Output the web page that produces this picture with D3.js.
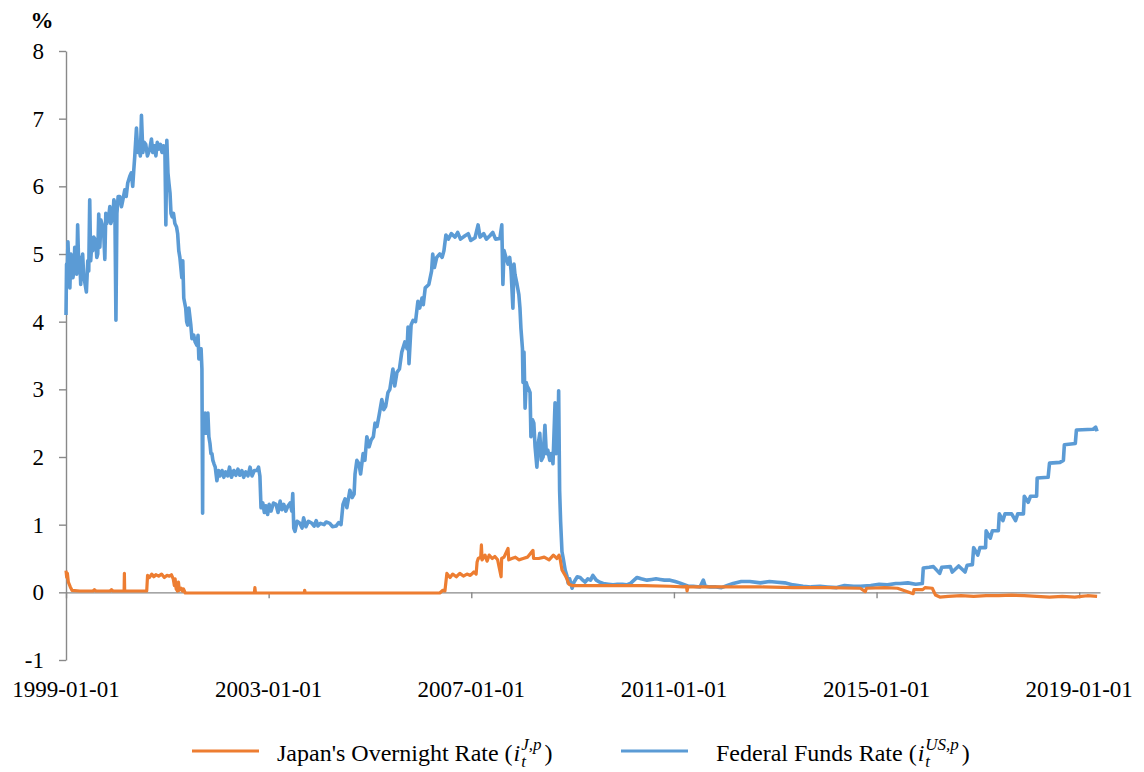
<!DOCTYPE html>
<html>
<head>
<meta charset="utf-8">
<script src="https://cdn.jsdelivr.net/npm/d3@7"></script>
<style>
  body { margin: 0; background: #fff; }
</style>
</head>
<body>
<svg id="chart" width="1144" height="772" font-family="Liberation Serif"></svg>
<script>
// 数据：联邦基金利率 (日期 / 数值)
const usDates = [
  "1999-01-01","1999-01-05","1999-01-08","1999-01-15","1999-01-22","1999-01-29","1999-02-05","1999-02-13","1999-02-20","1999-02-27",
  "1999-03-05","1999-03-12","1999-03-19","1999-03-26","1999-04-03","1999-04-10","1999-04-17","1999-04-24","1999-05-01","1999-05-08",
  "1999-05-15","1999-05-28","1999-06-07","1999-06-14","1999-06-21","1999-06-28","1999-07-06","1999-07-13","1999-07-20","1999-08-04",
  "1999-08-11","1999-08-18","1999-08-25","1999-09-02","1999-09-10","1999-09-23","1999-10-01","1999-10-08","1999-10-15","1999-10-22",
  "1999-11-05","1999-11-13","1999-11-20","1999-12-05","1999-12-12","1999-12-19","1999-12-27","2000-01-03","2000-01-12","2000-01-24",
  "2000-02-05","2000-02-15","2000-02-29","2000-03-10","2000-03-21","2000-04-05","2000-04-16","2000-04-26","2000-05-04","2000-05-11",
  "2000-05-23","2000-06-02","2000-06-10","2000-06-20","2000-06-28","2000-07-08","2000-07-18","2000-07-29","2000-08-10","2000-08-27",
  "2000-09-08","2000-09-18","2000-10-01","2000-10-10","2000-10-20","2000-11-01","2000-11-12","2000-11-23","2000-12-05","2000-12-14",
  "2000-12-21","2000-12-28","2001-01-05","2001-01-12","2001-01-20","2001-01-27","2001-02-04","2001-02-14","2001-02-24","2001-03-08",
  "2001-03-16","2001-03-24","2001-04-01","2001-04-15","2001-04-22","2001-04-29","2001-05-13","2001-05-20","2001-05-27","2001-06-05",
  "2001-06-19","2001-06-27","2001-07-10","2001-07-20","2001-08-02","2001-08-10","2001-08-16","2001-08-25","2001-09-01","2001-09-07",
  "2001-09-12","2001-09-14","2001-09-22","2001-09-30","2001-10-06","2001-10-13","2001-10-20","2001-10-27","2001-11-04","2001-11-11",
  "2001-11-18","2001-11-25","2001-12-03","2001-12-12","2001-12-24","2002-01-05","2002-01-15","2002-01-30","2002-02-12","2002-02-25",
  "2002-03-12","2002-03-25","2002-04-08","2002-04-25","2002-05-10","2002-05-25","2002-06-07","2002-06-22","2002-07-05","2002-07-20",
  "2002-08-05","2002-08-20","2002-09-03","2002-09-20","2002-10-09","2002-10-20","2002-10-30","2002-11-07","2002-11-20","2002-12-01",
  "2002-12-12","2002-12-25","2003-01-05","2003-01-18","2003-02-05","2003-02-23","2003-03-10","2003-03-25","2003-04-06","2003-04-20",
  "2003-05-05","2003-05-19","2003-06-05","2003-06-17","2003-06-24","2003-07-01","2003-07-10","2003-07-25","2003-08-14","2003-08-30",
  "2003-09-10","2003-09-27","2003-10-15","2003-11-09","2003-11-25","2003-12-10","2003-12-22","2004-01-10","2004-02-05","2004-02-20",
  "2004-03-17","2004-04-05","2004-05-01","2004-05-20","2004-06-06","2004-06-20","2004-07-05","2004-07-18","2004-08-09","2004-08-25",
  "2004-09-08","2004-09-15","2004-09-28","2004-10-13","2004-10-25","2004-11-12","2004-11-25","2004-12-09","2004-12-25","2005-01-09",
  "2005-01-25","2005-02-06","2005-02-20","2005-03-06","2005-03-27","2005-04-10","2005-04-24","2005-05-10","2005-05-24","2005-06-15",
  "2005-06-28","2005-07-14","2005-08-01","2005-08-18","2005-09-09","2005-09-25","2005-10-02","2005-10-09","2005-10-24","2005-11-07",
  "2005-11-25","2005-12-12","2005-12-25","2006-01-11","2006-01-20","2006-02-03","2006-03-01","2006-03-21","2006-03-29","2006-04-10",
  "2006-04-27","2006-05-19","2006-06-05","2006-06-18","2006-07-02","2006-07-20","2006-08-10","2006-09-06","2006-09-25","2006-10-15",
  "2006-11-17","2006-12-10","2006-12-28","2007-01-28","2007-02-19","2007-03-05","2007-04-01","2007-04-20","2007-05-15","2007-06-05",
  "2007-06-25","2007-07-26","2007-08-09","2007-08-17","2007-08-25","2007-09-01","2007-09-15","2007-09-23","2007-10-05","2007-10-15",
  "2007-10-28","2007-11-05","2007-11-12","2007-11-27","2007-12-10","2007-12-18","2007-12-25","2008-01-05","2008-01-09","2008-01-16",
  "2008-01-24","2008-02-01","2008-02-08","2008-02-20","2008-02-29","2008-03-06","2008-03-18","2008-03-27","2008-04-05","2008-04-18",
  "2008-04-28","2008-05-09","2008-05-20","2008-06-02","2008-06-15","2008-06-25","2008-07-06","2008-07-20","2008-08-01","2008-08-12",
  "2008-08-27","2008-09-03","2008-09-15","2008-09-22","2008-09-29","2008-10-06","2008-10-16","2008-10-25","2008-11-08","2008-11-20",
  "2008-11-29","2008-12-10","2008-12-28","2009-01-10","2009-02-03","2009-02-24","2009-03-15","2009-04-01","2009-04-20","2009-05-10",
  "2009-05-27","2009-06-20","2009-07-15","2009-08-09","2009-09-15","2009-10-20","2009-11-20","2009-12-25","2010-01-25","2010-02-20",
  "2010-04-10","2010-05-10","2010-06-21","2010-07-25","2010-08-25","2010-09-24","2010-10-25","2010-12-04","2011-01-10","2011-02-10",
  "2011-03-07","2011-04-15","2011-05-20","2011-07-08","2011-08-01","2011-08-15","2011-09-19","2011-11-01","2011-12-10","2012-01-21",
  "2012-03-03","2012-05-01","2012-07-01","2012-09-15","2012-11-20","2013-01-15","2013-03-10","2013-05-09","2013-07-20","2013-09-15",
  "2013-11-20","2014-01-12","2014-03-20","2014-05-15","2014-07-20","2014-09-06","2014-11-20","2015-01-20","2015-03-20","2015-05-20",
  "2015-06-21","2015-08-15","2015-10-10","2015-11-27","2015-12-04","2016-01-15","2016-02-15","2016-03-31","2016-04-15","2016-06-16",
  "2016-06-30","2016-08-15","2016-09-30","2016-10-15","2016-11-22","2016-12-01","2016-12-31","2017-01-15","2017-02-25","2017-03-01",
  "2017-03-31","2017-04-15","2017-05-28","2017-06-04","2017-06-30","2017-07-15","2017-09-01","2017-09-29","2017-10-15","2017-11-25",
  "2017-12-01","2017-12-29","2018-01-15","2018-02-28","2018-03-04","2018-05-22","2018-06-01","2018-08-15","2018-09-09","2018-09-16",
  "2018-12-04","2018-12-12","2019-04-12","2019-04-30","2019-05-10"
];
const usRates = [
  4.10,4.85,4.60,5.18,4.80,4.50,5.00,4.95,4.65,4.75,
  5.10,5.05,4.70,5.43,4.80,4.95,4.55,4.85,5.00,4.70,
  4.60,4.44,4.90,4.75,5.80,4.90,5.15,5.05,5.25,5.20,
  4.95,5.00,5.59,5.10,5.50,5.40,5.25,4.92,5.60,5.45,
  5.55,5.70,5.45,5.55,5.80,5.75,4.02,5.60,5.85,5.85,
  5.70,5.80,5.95,5.85,6.05,6.15,6.20,6.00,6.25,6.45,
  6.86,6.50,6.60,6.45,7.05,6.50,6.65,6.62,6.45,6.55,
  6.70,6.50,6.60,6.45,6.65,6.55,6.62,6.50,6.60,6.55,
  5.43,6.68,6.20,6.05,5.90,5.60,5.55,5.60,5.45,5.40,
  5.30,5.05,4.95,4.65,4.90,4.35,4.20,4.00,3.95,4.20,
  3.95,3.75,3.80,3.70,3.65,3.80,3.45,3.55,3.60,3.30,
  1.17,2.60,2.40,2.65,2.35,2.55,2.65,2.30,2.20,2.05,
  2.05,1.95,1.90,1.85,1.65,1.80,1.72,1.80,1.70,1.78,
  1.72,1.85,1.70,1.80,1.73,1.82,1.73,1.80,1.70,1.78,
  1.72,1.85,1.72,1.80,1.80,1.85,1.72,1.25,1.32,1.18,
  1.28,1.15,1.30,1.20,1.32,1.30,1.18,1.35,1.22,1.30,
  1.20,1.27,1.32,1.20,1.46,0.95,0.90,1.05,1.02,0.95,
  1.10,0.97,1.05,1.02,0.98,1.06,0.98,1.02,1.00,1.04,
  1.02,0.97,0.98,1.03,1.00,1.30,1.38,1.25,1.51,1.40,
  1.45,1.75,1.95,1.90,1.75,2.05,1.95,2.30,2.15,2.25,
  2.30,2.50,2.45,2.60,2.85,2.70,2.75,2.95,3.00,3.30,
  3.05,3.25,3.30,3.55,3.70,3.60,3.92,3.38,3.95,4.02,
  4.00,4.30,4.20,4.35,4.25,4.50,4.55,4.75,5.00,4.80,
  4.95,5.00,4.95,5.05,5.28,5.22,5.30,5.25,5.32,5.22,
  5.27,5.30,5.20,5.24,5.43,5.25,5.30,5.22,5.27,5.32,
  5.22,5.23,5.43,4.55,5.05,5.00,4.90,4.85,4.95,4.75,
  4.20,4.85,4.70,4.55,4.40,4.20,3.90,3.60,3.10,3.55,
  2.72,3.10,3.05,3.00,2.95,2.30,2.55,2.50,2.15,1.85,
  2.20,2.35,1.95,2.00,2.47,2.05,2.10,1.95,2.05,1.90,
  2.80,2.05,2.10,2.98,1.50,1.05,0.60,0.50,0.33,0.25,
  0.14,0.20,0.06,0.15,0.23,0.22,0.18,0.15,0.20,0.18,
  0.25,0.18,0.15,0.13,0.12,0.11,0.12,0.12,0.11,0.13,
  0.22,0.20,0.18,0.19,0.20,0.19,0.18,0.18,0.16,0.14,
  0.12,0.09,0.09,0.08,0.18,0.09,0.08,0.08,0.07,0.10,
  0.13,0.16,0.16,0.14,0.16,0.15,0.14,0.11,0.09,0.08,
  0.09,0.08,0.07,0.10,0.09,0.09,0.10,0.12,0.11,0.13,
  0.13,0.14,0.12,0.13,0.36,0.37,0.38,0.28,0.37,0.38,
  0.30,0.39,0.30,0.40,0.41,0.66,0.55,0.66,0.66,0.91,
  0.80,0.91,0.91,1.16,1.06,1.16,1.16,1.06,1.16,1.16,
  1.42,1.33,1.42,1.42,1.69,1.70,1.91,1.92,1.95,2.18,
  2.20,2.40,2.41,2.44,2.38
];

// 数据：日本隔夜拆借利率 (日期 / 数值)
const jpDates = [
  "1999-01-01","1999-01-06","1999-01-11","1999-01-18","1999-02-01","1999-02-13","1999-04-10","1999-07-15","1999-07-25","1999-08-05",
  "1999-11-15","1999-11-25","1999-12-05","2000-02-20","2000-02-24","2000-02-26","2000-02-28","2000-08-05","2000-08-11","2000-08-25",
  "2000-09-10","2000-09-25","2000-10-10","2000-10-30","2000-11-20","2000-12-10","2000-12-28","2001-01-15","2001-01-30","2001-02-12",
  "2001-02-20","2001-02-26","2001-03-05","2001-03-15","2001-03-22","2001-03-28","2001-04-10","2001-04-20","2001-04-27","2001-05-10",
  "2002-09-20","2002-09-24","2002-09-28","2003-09-15","2003-09-18","2003-09-21","2006-05-19","2006-06-10","2006-06-25","2006-07-09",
  "2006-08-01","2006-08-20","2006-09-15","2006-10-10","2006-11-05","2006-12-01","2006-12-25","2007-01-20","2007-02-05","2007-02-12",
  "2007-02-20","2007-03-10","2007-03-15","2007-03-20","2007-04-10","2007-04-25","2007-05-10","2007-06-01","2007-06-20","2007-07-10",
  "2007-08-04","2007-08-08","2007-08-25","2007-09-23","2007-09-28","2007-10-20","2007-11-15","2007-12-10","2008-01-10","2008-02-10",
  "2008-03-21","2008-03-25","2008-05-01","2008-06-10","2008-07-15","2008-08-15","2008-09-10","2008-09-25","2008-10-02","2008-10-16",
  "2008-11-08","2008-11-20","2008-12-05","2008-12-28","2009-06-01","2010-01-01","2010-06-01","2010-12-04","2011-03-07","2011-04-01",
  "2011-04-06","2011-04-12","2011-08-01","2012-01-01","2012-09-15","2013-05-09","2014-01-12","2014-09-06","2014-10-12","2014-10-20",
  "2015-03-01","2015-06-01","2015-09-22","2015-09-28","2015-11-30","2015-12-18","2016-02-07","2016-02-16","2016-03-01","2016-04-01",
  "2016-06-01","2016-09-01","2016-12-01","2017-03-01","2017-06-01","2017-09-01","2017-12-01","2018-03-01","2018-06-01","2018-09-01",
  "2018-12-01","2019-01-15","2019-03-01","2019-05-10"
];
const jpRates = [
  0.32,0.22,0.28,0.15,0.08,0.03,0.02,0.02,0.04,0.02,
  0.02,0.04,0.02,0.02,0.02,0.28,0.02,0.02,0.25,0.22,
  0.27,0.23,0.26,0.24,0.27,0.22,0.25,0.24,0.26,0.20,
  0.10,0.20,0.05,0.02,0.15,0.03,0.06,0.02,0.05,-0.01,
  -0.01,0.07,-0.01,-0.01,0.03,-0.01,-0.01,0.03,0.02,0.28,
  0.22,0.27,0.23,0.28,0.24,0.27,0.25,0.30,0.27,0.45,
  0.50,0.52,0.70,0.48,0.55,0.46,0.55,0.50,0.53,0.48,
  0.23,0.50,0.52,0.65,0.48,0.50,0.52,0.48,0.50,0.52,
  0.62,0.50,0.50,0.52,0.48,0.55,0.50,0.55,0.50,0.33,
  0.25,0.20,0.12,0.10,0.10,0.10,0.10,0.09,0.08,0.09,
  0.02,0.08,0.08,0.08,0.08,0.07,0.07,0.06,0.01,0.06,
  0.07,0.06,-0.02,0.04,0.04,0.07,0.06,0.02,-0.04,-0.07,
  -0.06,-0.05,-0.06,-0.05,-0.05,-0.04,-0.05,-0.06,-0.07,-0.06,
  -0.07,-0.06,-0.05,-0.06
];

const yTicks = [-1, 0, 1, 2, 3, 4, 5, 6, 7, 8];
const xTickLabels = ["1999-01-01", "2003-01-01", "2007-01-01", "2011-01-01", "2015-01-01", "2019-01-01"];
const seriesNames = ["Japan's Overnight Rate", "Federal Funds Rate"];
const seriesSups = ["J,p", "US,p"];
const seriesColors = ["#ED7D31", "#5B9BD5"];

(function () {
  let parse = d3.timeParse("%Y-%m-%d");
  let svg = d3.select("#chart");
  let font = "Liberation Serif";
  let axisColor = "#898989";

  let x = d3.scaleTime()
    .domain([parse("1999-01-01"), parse("2019-05-31")])
    .range([66, 1100]);
  let y = d3.scaleLinear()
    .domain([-1, 8])
    .range([660, 51]);

  let us = usDates.map((d, i) => ({ date: parse(d), value: usRates[i] }));
  let jp = jpDates.map((d, i) => ({ date: parse(d), value: jpRates[i] }));

  // y 轴
  let yAxis = svg.append("g")
    .attr("transform", "translate(66,0)")
    .call(d3.axisLeft(y).tickValues(yTicks).tickSize(7).tickSizeOuter(0).tickPadding(15).tickFormat(d => String(d)));
  yAxis.attr("font-family", font).attr("font-size", 23);
  yAxis.select(".domain").style("stroke", axisColor).style("stroke-width", 1.4);
  yAxis.selectAll(".tick line").style("stroke", axisColor).style("stroke-width", 1.4);
  yAxis.selectAll(".tick text")
    .attr("font-family", font)
    .attr("font-size", 23)
    .attr("fill", "#000");

  // x 轴（位于 0 处）
  let tickDates = xTickLabels.map(parse);
  let xAxis = svg.append("g")
    .attr("transform", `translate(0,${y(0)})`)
    .call(d3.axisBottom(x).tickValues(tickDates).tickSize(6).tickSizeOuter(0).tickFormat(""));
  xAxis.select(".domain").style("stroke", axisColor).style("stroke-width", 1.4);
  xAxis.selectAll(".tick line").style("stroke", axisColor).style("stroke-width", 1.4);

  svg.append("g")
    .selectAll("text")
    .data(xTickLabels)
    .enter()
    .append("text")
    .attr("x", d => x(parse(d)))
    .attr("y", 697)
    .attr("text-anchor", "middle")
    .attr("font-family", font)
    .attr("font-size", 23)
    .text(d => d);

  // 单位
  svg.append("text")
    .attr("x", 42)
    .attr("y", 28)
    .attr("text-anchor", "middle")
    .attr("font-family", font)
    .attr("font-size", 23)
    .attr("font-weight", "bold")
    .text("%");

  // 折线
  let line = d3.line()
    .x(d => x(d.date))
    .y(d => y(d.value));

  svg.append("path")
    .datum(us)
    .attr("d", line)
    .style("fill", "none")
    .style("stroke", seriesColors[1])
    .style("stroke-width", 3.6)
    .style("stroke-linejoin", "round");

  svg.append("path")
    .datum(jp)
    .attr("d", line)
    .style("fill", "none")
    .style("stroke", seriesColors[0])
    .style("stroke-width", 3.2)
    .style("stroke-linejoin", "round");

  // 图例
  function drawLegend(lineX, textX, i) {
    let g = svg.append("g").attr("font-family", font);
    g.append("line")
      .attr("x1", lineX).attr("x2", lineX + 67)
      .attr("y1", 751).attr("y2", 751)
      .style("stroke", seriesColors[i])
      .style("stroke-width", 3.2);

    let main = g.append("text")
      .attr("x", textX).attr("y", 761)
      .attr("font-size", 24)
      .text(seriesNames[i] + " (");
    let cx = textX + main.node().getComputedTextLength() + 1;

    let iv = g.append("text")
      .attr("x", cx).attr("y", 761)
      .attr("font-size", 24)
      .attr("font-style", "italic")
      .text("i");
    cx += iv.node().getComputedTextLength() + 1;

    let sup = g.append("text")
      .attr("x", cx).attr("y", 750)
      .attr("font-size", 17)
      .attr("font-style", "italic")
      .text(seriesSups[i]);
    g.append("text")
      .attr("x", cx).attr("y", 767)
      .attr("font-size", 17)
      .attr("font-style", "italic")
      .text("t");
    cx += sup.node().getComputedTextLength() + 3;

    g.append("text")
      .attr("x", cx).attr("y", 761)
      .attr("font-size", 24)
      .text(")");
  }

  drawLegend(192, 277, 0);
  drawLegend(621, 716, 1);
})();
</script>
</body>
</html>
